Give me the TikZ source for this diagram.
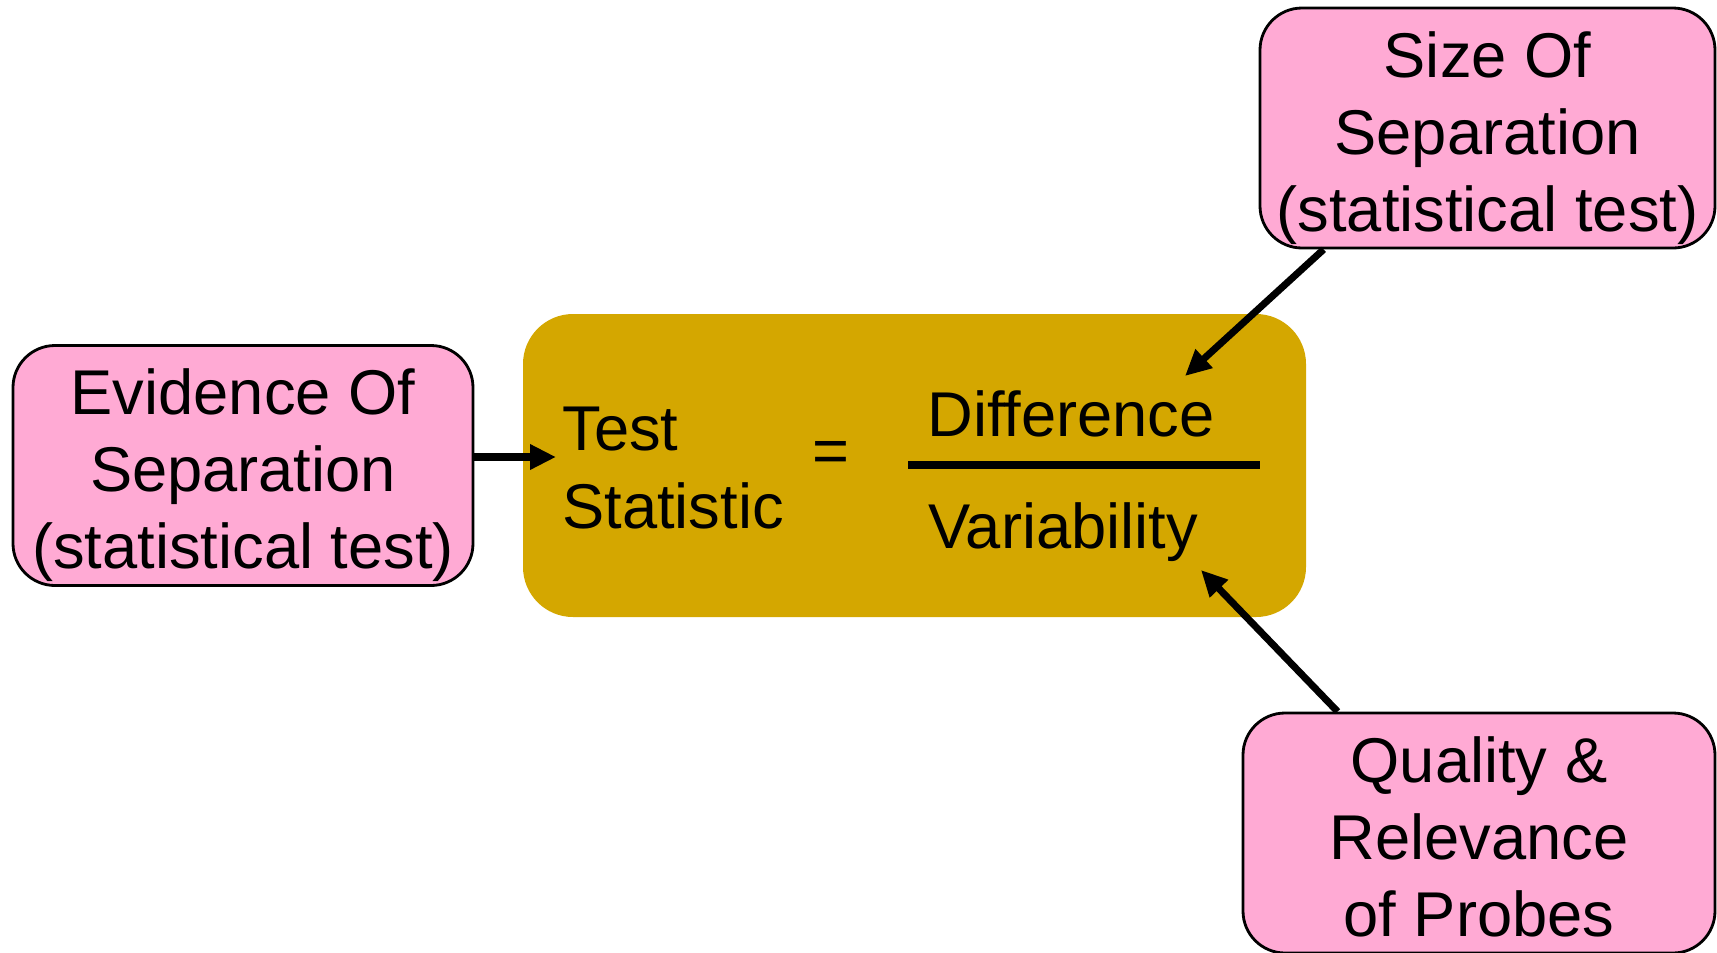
\documentclass[tikz,border=0pt]{standalone}
\usepackage{fontspec}
\setmainfont{Liberation Sans}
\usepackage{tikz}
\usetikzlibrary{arrows.meta, positioning}

\definecolor{critpink}{RGB}{255,170,212}
\definecolor{statgold}{RGB}{212,167,0}

\begin{document}
\begin{tikzpicture}[
    auto, thick,
    crit/.style = {rectangle, draw=black, line width=0.8pt, fill=critpink, minimum width=4.6cm, minimum height=2.4cm, inner sep=0pt, rounded corners=0.42cm},
    crittext/.style = {align=center, inner sep=0pt, font=\fontsize{18}{22}\selectfont},
    stat/.style = {rectangle, fill=statgold, minimum width=7.83cm, minimum height=3.03cm, rounded corners=0.5cm},
    term/.style = {inner sep=0pt, align=left, font=\fontsize{18}{22}\selectfont},
    line/.style = {draw=black, line width=2pt, -{Triangle[length=0.26cm, width=0.24cm]}},
    frac/.style = {draw=black, line width=2pt}
]
    \useasboundingbox (0,0) rectangle (17.17,-9.52);

    % Boxes
    \node [stat] (teststat) at (9.145, -4.655) {};
    \node [crit, label={[crittext, yshift=-0.095cm]center:Evidence Of\\Separation\\(statistical test)}] (evid) at (2.43, -4.655) {};
    \node [crit, minimum width=4.55cm, label={[crittext, yshift=-0.1cm]center:Size Of\\Separation\\(statistical test)}] (size) at (14.875, -1.28) {};
    \node [crit, minimum width=4.72cm, label={[crittext, yshift=-0.04cm]center:Quality \&\\Relevance\\of Probes}] (qual) at (14.79, -8.33) {};

    % Formula
    \node [term, anchor=base west] (test) at (5.61, -4.50) {Test};
    \node [term, below=0pt of test.base west, yshift=-0.78cm, anchor=base west] (statistic) {Statistic};
    \node [term] (equals) at (8.31, -4.57) {=};
    \node [term, anchor=base west] (diff) at (9.26, -4.36) {Difference};
    \node [term, anchor=base west] (vari) at (9.27, -5.48) {Variability};
    \coordinate (fracL) at (9.08, -4.65);
    \coordinate (fracR) at (12.60, -4.65);
    \draw [frac] (fracL) -- (fracR);

    % Arrow tips
    \coordinate (evidtip) at (5.56, -4.57);
    \coordinate (difftip) at (11.85, -3.76);
    \coordinate (varitip) at (12.01, -5.70);

    % Arrows
    \draw [line] (evid.east |- evidtip) -- (evidtip);
    \draw [line] ([xshift=0.65cm]size.south west) -- (difftip);
    \draw [line] ([xshift=0.96cm]qual.north west) -- (varitip);
\end{tikzpicture}
\end{document}
